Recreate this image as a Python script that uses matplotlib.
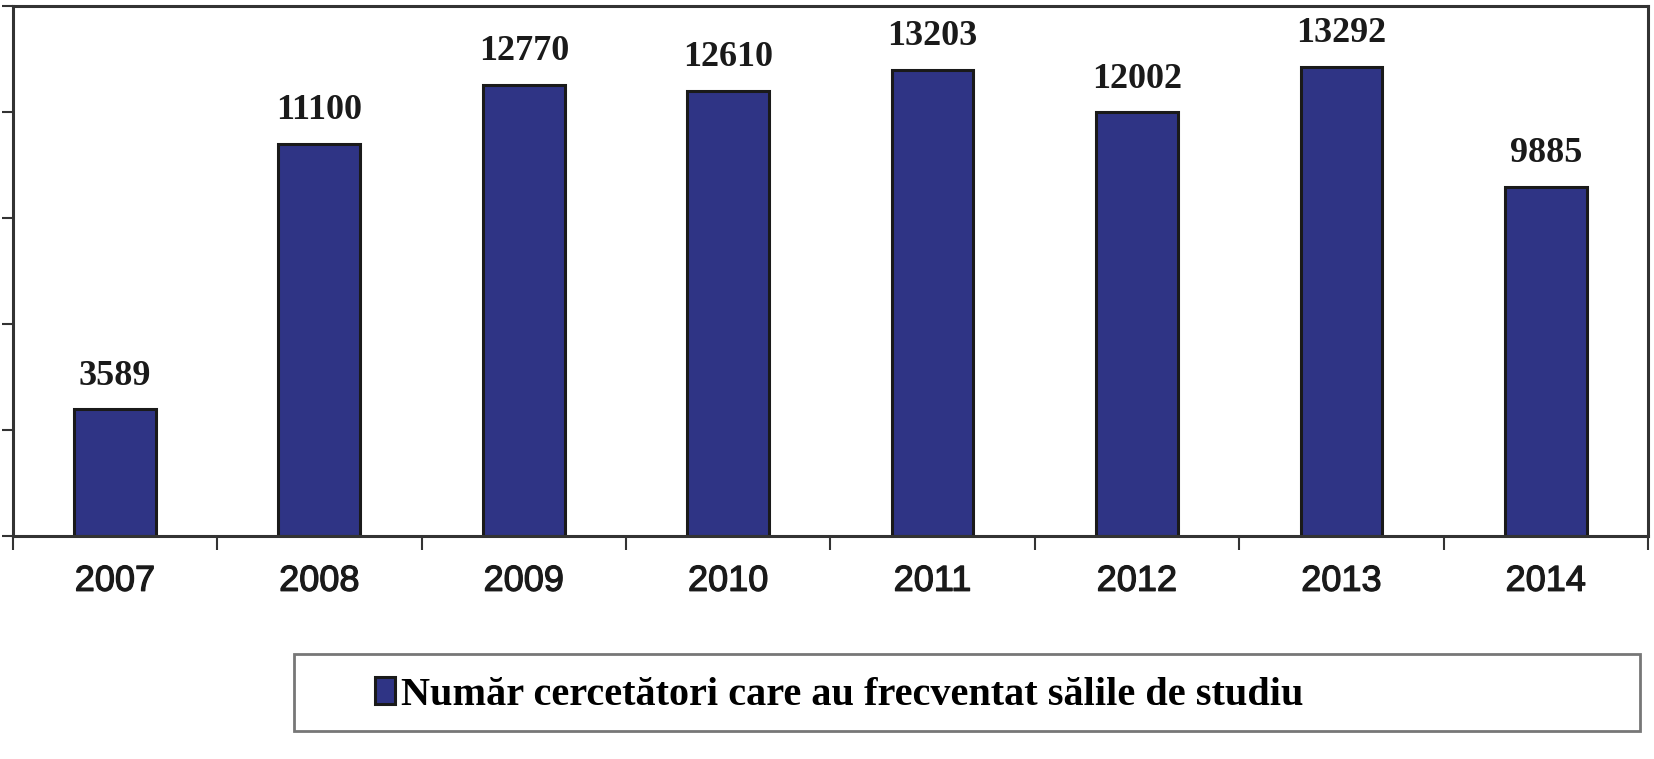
"""
plot.py
Bar chart: researchers who attended the study rooms, 2007-2014.
"""
import matplotlib
matplotlib.use("Agg")
import matplotlib.pyplot as plt
import matplotlib.patheffects as pe
from matplotlib.patches import Rectangle

YEARS = ["2007", "2008", "2009", "2010", "2011", "2012", "2013", "2014"]
VISITORS = [3589, 11100, 12770, 12610, 13203, 12002, 13292, 9885]
SERIES_LABEL = "Număr cercetători care au frecventat sălile de studiu"

BAR_COLOR = "#2f3485"
EDGE_COLOR = "#1a1a1a"

fig = plt.figure(figsize=(16.54, 7.59), dpi=100)
ax = fig.add_axes([0.0077, 0.2938, 0.9887, 0.6979])

xs = range(len(YEARS))
bars = ax.bar(xs, VISITORS, width=0.40, color=BAR_COLOR,
              edgecolor=EDGE_COLOR, lw=2.2, label=SERIES_LABEL)

for bar, val in zip(bars, VISITORS):
    ax.text(bar.get_x() + bar.get_width() / 2, bar.get_height() + 470,
            f"{val}", ha="center", va="bottom", fontsize=26,
            fontweight="bold", family="Liberation Serif", color="#1a1a1a")

ax.set_xlim(-0.5, len(YEARS) - 0.5)
ax.set_ylim(0, 15000)
ax.set_yticks(range(0, 15001, 3000))
ax.set_yticklabels([])
ax.tick_params(axis="y", direction="out", length=8, width=1.5, color="#333333")

ax.set_xticks(list(xs))
ax.set_xticklabels(YEARS, fontsize=26, family="Liberation Sans", color="#1a1a1a")
for lbl in ax.get_xticklabels():
    lbl.set_path_effects([pe.withStroke(linewidth=0.9, foreground="#1a1a1a")])
ax.tick_params(axis="x", which="major", length=0, pad=20)
ax.set_xticks([i - 0.5 for i in range(len(YEARS) + 1)], minor=True)
ax.tick_params(axis="x", which="minor", direction="out", length=10,
               width=1.5, color="#333333")

for sp in ax.spines.values():
    sp.set_color("#333333")
    sp.set_linewidth(2.2)

# legend box drawn in figure coordinates
fig.patches.append(Rectangle((0.178, 0.037), 0.8135, 0.101,
                             transform=fig.transFigure, fill=False,
                             edgecolor="#777777", lw=2))
leg = fig.legend(handles=[bars[0]], labels=[SERIES_LABEL],
                 loc="center left", bbox_to_anchor=(0.2145, 0.084),
                 frameon=False, borderpad=0, handlelength=0.5,
                 handleheight=0.68, handletextpad=0.15,
                 prop={"family": "Liberation Serif", "weight": "bold", "size": 29})

fig.savefig("out.png", dpi=100)
